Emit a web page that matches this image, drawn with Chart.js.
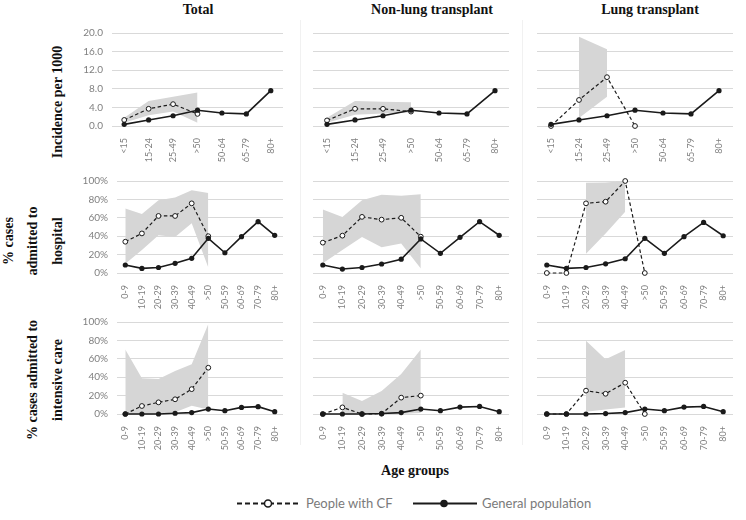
<!DOCTYPE html>
<html>
<head>
<meta charset="utf-8">
<script src="https://cdn.jsdelivr.net/npm/chart.js@4/dist/chart.umd.min.js"></script>
<style>
  html, body { margin: 0; padding: 0; background: #fff; }
  #page { position: relative; width: 746px; height: 520px; overflow: hidden; font-family: Lato, "Open Sans", sans-serif; }
  .panel { position: absolute; }
  .serif { position: absolute; font-family: "Liberation Serif", "Times New Roman", serif; font-weight: bold; font-size: 14px; color: #111; white-space: nowrap; }
  .ytitle { transform: translate(-50%, -50%) rotate(-90deg); }
  .ctitle { transform: translate(-50%, -50%); }
  .sep { position: absolute; width: 1px; background: #f1f1f1; }
  #legend { position: absolute; left: 0; top: 494px; width: 746px; height: 20px; }
  #legend span { position: absolute; top: 1px; font-size: 13px; color: #7a7a7a; }
</style>
</head>
<body>
<div id="page">
  <div class="sep" style="left:300px; top:20px; height:425px;"></div>
  <div class="sep" style="left:522px; top:20px; height:425px;"></div>

  <div class="serif ctitle" style="left:198px; top:10px;">Total</div>
  <div class="serif ctitle" style="left:432px; top:10px;">Non-lung transplant</div>
  <div class="serif ctitle" style="left:650px; top:10px;">Lung transplant</div>

  <div class="serif ytitle" style="left:58px; top:102px;">Incidence per 1000</div>
  <div class="serif ytitle" style="left:9px; top:241px;">% cases</div>
  <div class="serif ytitle" style="left:33px; top:241px;">admitted to</div>
  <div class="serif ytitle" style="left:58px; top:241px;">hospital</div>
  <div class="serif ytitle" style="left:33px; top:380px;">% cases admitted to</div>
  <div class="serif ytitle" style="left:58px; top:380px;">intensive care</div>

  <div class="serif ctitle" style="left:415px; top:471px;">Age groups</div>

  <div id="legend">
    <svg width="746" height="20" style="position:absolute;left:0;top:0">
      <line x1="237" y1="9.5" x2="300" y2="9.5" stroke="#1a1a1a" stroke-width="2" stroke-dasharray="5,3"/>
      <circle cx="268" cy="9.5" r="3.5" fill="#fff" stroke="#1a1a1a" stroke-width="1.5"/>
      <line x1="413" y1="9.5" x2="477" y2="9.5" stroke="#1a1a1a" stroke-width="2"/>
      <circle cx="444" cy="9.5" r="3.8" fill="#1a1a1a"/>
    </svg>
    <span style="left:306px;">People with CF</span>
    <span style="left:482px;">General population</span>
  </div>
</div>

<script>
// ============================================================
// Data
// ============================================================

const AGE_INCIDENCE = ['<15', '15-24', '25-49', '>50', '50-64', '65-79', '80+'];
const AGE_OUTCOME = ['0-9', '10-19', '20-29', '30-39', '40-49', '>50', '50-59', '60-69', '70-79', '80+'];

// Incidence per 1000
const INC_GP = [0.35, 1.3, 2.2, 3.4, 2.8, 2.6, 7.6];
const INC_TOTAL_CF = [1.3, 3.7, 4.7, 2.6, null, null, null];
const INC_TOTAL_HI = [1.8, 5.4, 6.3, 7.2, null, null, null];
const INC_TOTAL_LO = [0.7, 2.3, 3.1, 0.7, null, null, null];
const INC_NONLUNG_CF = [1.2, 3.7, 3.7, 3.1, null, null, null];
const INC_NONLUNG_HI = [1.8, 5.4, 5.2, 5.1, null, null, null];
const INC_NONLUNG_LO = [0.7, 2.4, 2.7, 2.9, null, null, null];
const INC_LUNG_CF = [0, 5.6, 10.5, 0, null, null, null];
const INC_LUNG_HI = [null, 19.2, 16.5, null, null, null, null];
const INC_LUNG_LO = [null, 1.7, 6.3, null, null, null, null];

// % cases admitted to hospital
const HOSP_TOTAL_GP = [8.7, 5, 6, 10.5, 16, 37.7, 22, 39.5, 55.8, 41];
const HOSP_TOTAL_CF = [34, 43, 62, 62, 75.7, 40, null, null, null, null];
const HOSP_TOTAL_HI = [70, 64, 79, 82, 90, 87, null, null, null, null];
const HOSP_TOTAL_LO = [10, 25, 41, 39, 54, 6, null, null, null, null];
const HOSP_NONLUNG_GP = [8.7, 4.3, 6, 9.8, 15, 37, 21.4, 38.8, 55.8, 41];
const HOSP_NONLUNG_CF = [33, 40.6, 61, 58, 60, 39.5, null, null, null, null];
const HOSP_NONLUNG_HI = [69, 61, 79, 85, 84, 85.5, null, null, null, null];
const HOSP_NONLUNG_LO = [10.5, 25, 39, 28, 32, 5, null, null, null, null];
const HOSP_LUNG_GP = [8.7, 5, 6, 10, 15.5, 37.7, 21.4, 39.5, 55, 40.5];
const HOSP_LUNG_CF = [0, 0, 75.7, 77.5, 100, 0, null, null, null, null];
const HOSP_LUNG_HI = [null, null, 98, 98.5, 100, null, null, null, null, null];
const HOSP_LUNG_LO = [null, null, 21, 43, 66.6, null, null, null, null, null];

// % cases admitted to intensive care
const ICU_TOTAL_GP = [0, 0, 0, 0.8, 1.5, 5.4, 3.6, 7.2, 8, 2.5];
const ICU_TOTAL_CF = [0, 8.7, 12.7, 16, 27, 50.3, null, null, null, null];
const ICU_TOTAL_HI = [70, 38.8, 38, 46.7, 54, 97.8, null, null, null, null];
const ICU_TOTAL_LO = [0, 0, 0, 2, 9, 5, null, null, null, null];
const ICU_NONLUNG_GP = [0, 0, 0, 0.5, 1.5, 5.4, 3.6, 7.5, 8.2, 2.5];
const ICU_NONLUNG_CF = [0, 7.2, 0, 0.3, 17.8, 20, null, null, null, null];
const ICU_NONLUNG_HI = [null, 23, 14, 25, 43.5, 70, null, null, null, null];
const ICU_NONLUNG_LO = [null, 0, 0, 0, 0, 1, null, null, null, null];
const ICU_LUNG_GP = [0, 0, 0, 0.5, 1.5, 5.4, 3.6, 7.5, 8.2, 2.5];
const ICU_LUNG_CF = [0, 0, 25.4, 22, 34, 0, null, null, null, null];
const ICU_LUNG_HI = [null, null, 79.7, 59.4, 69.6, null, null, null, null, null];
const ICU_LUNG_LO = [null, null, 2.5, 5, 7, null, null, null, null, null];

// ============================================================
// Layout (plot areas in page pixels)
// ============================================================

const COLS = [
  { l: 112, r: 283, showY: true },
  { l: 313, r: 509, showY: false },
  { l: 537, r: 733, showY: false },
];
const ROWS = [
  { t: 33, b: 126, l0: 112 },
  { t: 181, b: 273, l0: 117 },
  { t: 322, b: 414, l0: 117 },
];
const PAD_T = 8, PAD_R = 8, XH = 40;
const INK = '#1a1a1a';
const GRID = '#d9d9d9';
const BAND = '#d6d6d6';
const TICK = '#808080';

const PANELS = [
  { row: 0, col: 0, labels: AGE_INCIDENCE, gp: INC_GP, cf: INC_TOTAL_CF, hi: INC_TOTAL_HI, lo: INC_TOTAL_LO },
  { row: 0, col: 1, labels: AGE_INCIDENCE, gp: INC_GP, cf: INC_NONLUNG_CF, hi: INC_NONLUNG_HI, lo: INC_NONLUNG_LO },
  { row: 0, col: 2, labels: AGE_INCIDENCE, gp: INC_GP, cf: INC_LUNG_CF, hi: INC_LUNG_HI, lo: INC_LUNG_LO },
  { row: 1, col: 0, labels: AGE_OUTCOME, gp: HOSP_TOTAL_GP, cf: HOSP_TOTAL_CF, hi: HOSP_TOTAL_HI, lo: HOSP_TOTAL_LO },
  { row: 1, col: 1, labels: AGE_OUTCOME, gp: HOSP_NONLUNG_GP, cf: HOSP_NONLUNG_CF, hi: HOSP_NONLUNG_HI, lo: HOSP_NONLUNG_LO },
  { row: 1, col: 2, labels: AGE_OUTCOME, gp: HOSP_LUNG_GP, cf: HOSP_LUNG_CF, hi: HOSP_LUNG_HI, lo: HOSP_LUNG_LO },
  { row: 2, col: 0, labels: AGE_OUTCOME, gp: ICU_TOTAL_GP, cf: ICU_TOTAL_CF, hi: ICU_TOTAL_HI, lo: ICU_TOTAL_LO },
  { row: 2, col: 1, labels: AGE_OUTCOME, gp: ICU_NONLUNG_GP, cf: ICU_NONLUNG_CF, hi: ICU_NONLUNG_HI, lo: ICU_NONLUNG_LO },
  { row: 2, col: 2, labels: AGE_OUTCOME, gp: ICU_LUNG_GP, cf: ICU_LUNG_CF, hi: ICU_LUNG_HI, lo: ICU_LUNG_LO },
];

// ============================================================
// Charts
// ============================================================

function makePanel(p) {
  const col = COLS[p.col];
  const row = ROWS[p.row];
  const left = p.col === 0 ? row.l0 : col.l;
  const yw = p.col === 0 ? left - 40 : 10;
  const width = (col.r - left) + yw + PAD_R;
  const height = (row.b - row.t) + PAD_T + XH;

  const div = document.createElement('div');
  div.className = 'panel';
  div.style.left = (left - yw) + 'px';
  div.style.top = (row.t - PAD_T) + 'px';
  div.style.width = width + 'px';
  div.style.height = height + 'px';
  const canvas = document.createElement('canvas');
  div.appendChild(canvas);
  document.getElementById('page').appendChild(div);

  const isIncidence = p.row === 0;

  new Chart(canvas, {
    type: 'line',
    data: {
      labels: p.labels,
      datasets: [
        {
          label: 'General population',
          data: p.gp,
          borderColor: INK,
          borderWidth: 1.6,
          pointRadius: 2.6,
          pointBackgroundColor: INK,
          pointBorderColor: INK,
          pointBorderWidth: 0,
          tension: 0,
          clip: false,
          fill: false,
        },
        {
          label: 'People with CF',
          data: p.cf,
          borderColor: INK,
          borderWidth: 1.2,
          borderDash: [3.5, 2.5],
          pointRadius: 2.4,
          pointBackgroundColor: '#fff',
          pointBorderColor: INK,
          pointBorderWidth: 1,
          tension: 0,
          clip: false,
          fill: false,
        },
        {
          label: 'CI upper',
          data: p.hi,
          borderWidth: 0,
          borderColor: 'rgba(0,0,0,0)',
          pointRadius: 0,
          backgroundColor: BAND,
          fill: '+1',
          tension: 0,
        },
        {
          label: 'CI lower',
          data: p.lo,
          borderWidth: 0,
          borderColor: 'rgba(0,0,0,0)',
          pointRadius: 0,
          fill: false,
          tension: 0,
        },
      ],
    },
    options: {
      responsive: true,
      maintainAspectRatio: false,
      animation: false,
      events: [],
      layout: { padding: { left: 0, top: PAD_T, right: PAD_R, bottom: 0 } },
      plugins: {
        legend: { display: false },
        tooltip: { enabled: false },
      },
      scales: {
        x: {
          offset: true,
          grid: { display: false },
          border: { display: false },
          ticks: {
            color: TICK,
            font: { family: 'Lato, "Open Sans", sans-serif', size: 9 },
            minRotation: 90,
            maxRotation: 90,
            autoSkip: false,
            padding: 4,
          },
          afterFit: (s) => { s.height = XH; s.paddingLeft = 0; s.paddingRight = 0; },
        },
        y: {
          min: 0,
          max: isIncidence ? 20 : 100,
          grid: { color: GRID, lineWidth: 1, drawTicks: false },
          border: { display: false },
          ticks: {
            display: col.showY,
            stepSize: isIncidence ? 4 : 20,
            color: TICK,
            font: { family: 'Lato, "Open Sans", sans-serif', size: 10 },
            padding: 9,
            callback: (v) => isIncidence ? v.toFixed(1) : v + '%',
          },
          // keep the plot area where the reference has it, whatever the label heights
          afterFit: (s) => { s.width = yw; s.paddingTop = 0; s.paddingBottom = 0; },
        },
      },
    },
  });
}

function init() {
  PANELS.forEach(makePanel);
}

document.addEventListener('DOMContentLoaded', init);
</script>
</body>
</html>
